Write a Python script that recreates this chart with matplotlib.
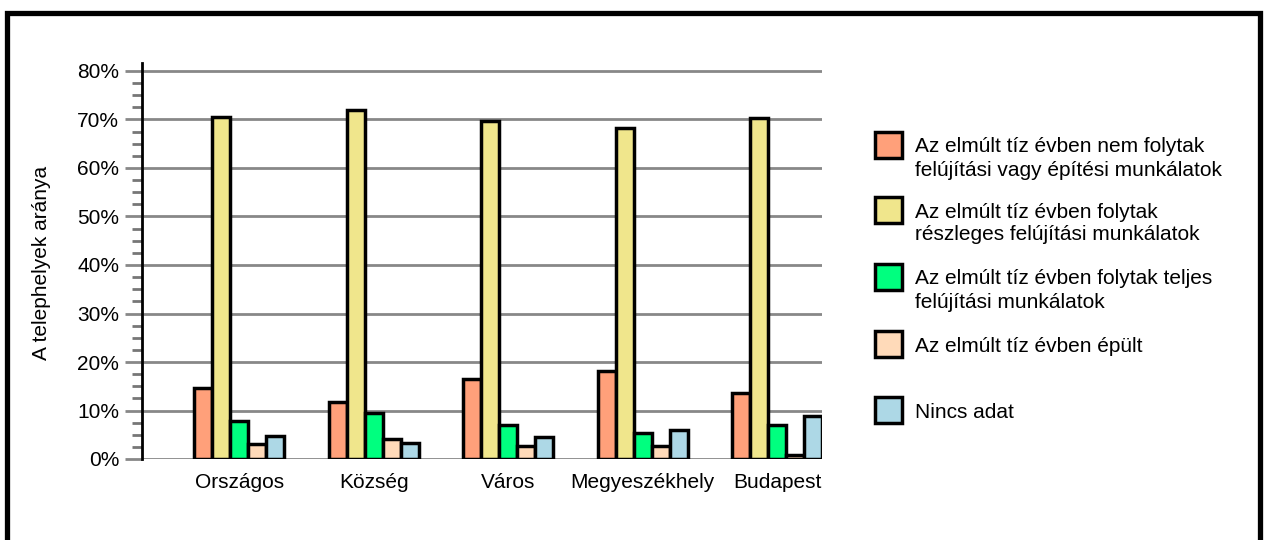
import matplotlib
matplotlib.use("Agg")
import matplotlib.pyplot as plt
from matplotlib.patches import Rectangle
import numpy as np

plt.rcParams['font.family'] = ['Liberation Sans', 'DejaVu Sans']

categories = ["Országos", "Község", "Város", "Megyeszékhely", "Budapest"]
series_names = [
    "Az elmúlt tíz évben nem folytak\nfelújítási vagy építési munkálatok",
    "Az elmúlt tíz évben folytak\nrészleges felújítási munkálatok",
    "Az elmúlt tíz évben folytak teljes\nfelújítási munkálatok",
    "Az elmúlt tíz évben épült",
    "Nincs adat",
]
nem_folytak = [14.6, 11.8, 16.5, 18.2, 13.6]
reszleges = [70.5, 72.0, 69.7, 68.2, 70.3]
teljes = [7.8, 9.4, 7.0, 5.3, 7.0]
epult = [3.0, 4.1, 2.7, 2.7, 0.8]
nincs_adat = [4.7, 3.4, 4.5, 6.0, 8.9]
yticks = [0, 10, 20, 30, 40, 50, 60, 70, 80]
ytick_labels = ["0%", "10%", "20%", "30%", "40%", "50%", "60%", "70%", "80%"]

colors = ["#FFA07A", "#F0E68C", "#00FF7F", "#FFDAB9", "#ADD8E6"]
data = [nem_folytak, reszleges, teljes, epult, nincs_adat]

FS = 15
W, H = 1265, 540
fig = plt.figure(figsize=(W / 100, H / 100), dpi=100)
ax = fig.add_axes([142 / W, 1 - 459 / H, 680 / W, 396 / H])

x = np.arange(len(categories))
bw = 0.134
for i, (vals, c) in enumerate(zip(data, colors)):
    ax.bar(x + (i - 2) * bw, vals, width=bw, color=c, edgecolor="black",
           linewidth=2.5, zorder=3)

ax.set_xlim(-0.725, 4.335)
ax.set_ylim(0, 80 * 396 / 388)
ax.set_yticks(yticks)
ax.set_yticklabels(ytick_labels, fontsize=FS)
ax.set_yticks([v for v in np.arange(0, 81, 2.5) if v % 10 != 0], minor=True)
ax.tick_params(axis='y', which='major', length=12.5, width=2, color="#888888", pad=4)
ax.tick_params(axis='y', which='minor', length=7, width=2, color="#777777")
ax.set_xticks(x)
ax.set_xticklabels(categories, fontsize=FS)
ax.tick_params(axis='x', length=0, pad=10)
for y in yticks:
    ax.axhline(y, color="#888888", linewidth=2, zorder=1)
for s in ["top", "right", "bottom"]:
    ax.spines[s].set_visible(False)
ax.spines["left"].set_linewidth(2)
ax.spines["left"].set_zorder(4)
fig.text(42 / W, 1 - 263 / H, "A telephelyek aránya", rotation=90,
         fontsize=FS, ha="center", va="center")

# legend (manual)
patch_top = [132, 197, 264, 331, 397]
line_gap = 23
for name, c, top in zip(series_names, colors, patch_top):
    fig.add_artist(Rectangle((875 / W, 1 - (top + 26) / H), 27 / W, 26 / H,
                             transform=fig.transFigure, facecolor=c,
                             edgecolor="black", linewidth=2.5))
    for k, line in enumerate(name.split("\n")):
        fig.text(915 / W, 1 - (top + 15 + k * line_gap) / H, line,
                 fontsize=FS, ha="left", va="center")

fig.add_artist(Rectangle((7.5 / W, -0.1), 1252 / W, 1.1 - 12.5 / H,
                         transform=fig.transFigure, fill=False,
                         edgecolor="black", linewidth=3.8))

fig.savefig("out.png", dpi=100)
